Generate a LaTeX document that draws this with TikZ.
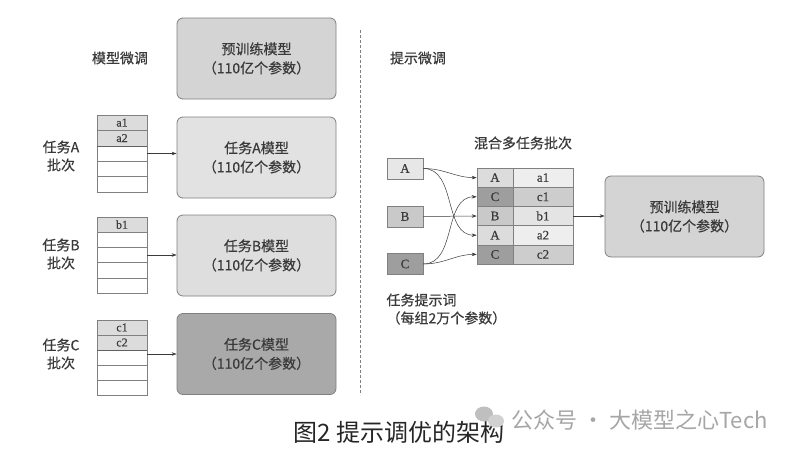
\documentclass[tikz,border=0pt]{standalone}
\usepackage{fontspec}
\setmainfont{Liberation Serif}[FakeBold=0.4]
\newfontfamily\cjk{Noto Sans CJK SC}[FakeBold=0.5]
\newfontfamily\cjkplain{Noto Sans CJK SC}
\usetikzlibrary{arrows.meta}
\definecolor{txt}{HTML}{3A3A3A}
\definecolor{edge}{HTML}{808080}
\definecolor{gTop}{HTML}{D4D4D4}
\definecolor{gA}{HTML}{E2E2E2}
\definecolor{gB}{HTML}{DEDEDE}
\definecolor{gC}{HTML}{A9A9A9}
\definecolor{cellA}{HTML}{DCDCDC}
\definecolor{cellB}{HTML}{C9C9C9}
\definecolor{cellC}{HTML}{9E9E9E}
\definecolor{cellAr}{HTML}{EEEEEE}
\definecolor{cellBr}{HTML}{E4E4E4}
\definecolor{cellCr}{HTML}{CDCDCD}
\begin{document}
\begin{tikzpicture}[x=1pt,y=-1pt,
  mbox/.style={draw=edge,line width=0.8pt,rounded corners=6pt,minimum width=159pt,minimum height=81pt,align=center,text=txt,font=\cjk\fontsize{14}{19}\selectfont},
  lbl/.style={text=txt,align=center,font=\cjk\fontsize{14}{18}\selectfont},
  cell/.style={draw=edge,line width=0.6pt,minimum width=50pt,minimum height=#1,inner sep=0pt,text=txt,font=\fontsize{12}{12}\selectfont},
  mcell/.style={draw=edge,line width=0.6pt,minimum height=19.2pt,inner sep=0pt,text=txt,font=\fontsize{13}{13}\selectfont},
  pbox/.style={draw=edge,line width=0.6pt,minimum width=36pt,minimum height=21pt,inner sep=0pt,text=txt,font=\fontsize{13}{13}\selectfont},
  arr/.style={draw=txt,line width=0.5pt,-{Stealth[length=5pt,width=3.5pt]}}
]
\useasboundingbox[fill=white] (0,0) rectangle (796,453);

% ---------- left: model fine-tuning ----------
\node[lbl] (lft) at (120,58) {模型微调};
\node[mbox,fill=gTop] (pre1) at (256.5,58.5) {预训练模型\\（110亿个参数）};
\node[mbox,fill=gA] (boxA) at (256.5,157.5) {任务A模型\\（110亿个参数）};
\node[mbox,fill=gB] (boxB) at (256.5,255.5) {任务B模型\\（110亿个参数）};
\node[mbox,fill=gC] (boxC) at (256.5,354) {任务C模型\\（110亿个参数）};

\node[lbl] (labA) at (61,156) {任务A\\批次};
\node[lbl] (labB) at (61,254) {任务B\\批次};
\node[lbl] (labC) at (61,354) {任务C\\批次};

% task A batch
\node[cell=15.4pt,fill=cellA] (ta1) at (122,122.7) {a1};
\node[cell=15.4pt,fill=cellA] (ta2) at (122,138.1) {a2};
\node[cell=15.4pt,fill=white] (ta3) at (122,153.5) {};
\node[cell=15.4pt,fill=white] (ta4) at (122,168.9) {};
\node[cell=15.4pt,fill=white] (ta5) at (122,184.3) {};
\draw[txt!80,line width=1.2pt] (ta2.south west) -- (ta2.south east);
% task B batch
\node[cell=15.2pt,fill=cellA] (tb1) at (122,224.6) {b1};
\node[cell=15.2pt,fill=white] (tb2) at (122,239.8) {};
\node[cell=15.2pt,fill=white] (tb3) at (122,255) {};
\node[cell=15.2pt,fill=white] (tb4) at (122,270.2) {};
\node[cell=15.2pt,fill=white] (tb5) at (122,285.4) {};
% task C batch
\node[cell=15pt,fill=cellA] (tc1) at (122,327.5) {c1};
\node[cell=15pt,fill=cellA] (tc2) at (122,342.5) {c2};
\node[cell=15pt,fill=white] (tc3) at (122,357.5) {};
\node[cell=15pt,fill=white] (tc4) at (122,372.5) {};
\node[cell=15pt,fill=white] (tc5) at (122,387.5) {};
\draw[txt!80,line width=1.2pt] (tc2.south west) -- (tc2.south east);

\draw[arr] (ta3.east) -- (ta3.east -| boxA.west);
\draw[arr] (tb3.east) -- (tb3.east -| boxB.west);
\draw[arr] (tc3.east |- boxC.center) -- (boxC.west);

% divider
\coordinate (d1) at (360,30);
\coordinate (d2) at (360,395);
\draw[edge,line width=0.6pt,dash pattern=on 3pt off 2pt] (d1) -- (d2);

% ---------- right: prompt tuning ----------
\node[lbl] (rgt) at (418,58) {提示微调};
\node[lbl] (mix) at (523,143) {混合多任务批次};

\node[pbox,fill=cellAr!60!cellA] (pA) at (405,168.5) {A};
\node[pbox,fill=cellB] (pB) at (405,216.5) {B};
\node[pbox,fill=cellC] (pC) at (405,264) {C};

\node[mcell,minimum width=36pt,fill=cellA] (m1l) at (495,177.6) {A};
\node[mcell,minimum width=60pt,fill=cellAr] (m1r) at (543,177.6) {a1};
\node[mcell,minimum width=36pt,fill=cellC] (m2l) at (495,196.8) {C};
\node[mcell,minimum width=60pt,fill=cellCr] (m2r) at (543,196.8) {c1};
\node[mcell,minimum width=36pt,fill=cellB] (m3l) at (495,216) {B};
\node[mcell,minimum width=60pt,fill=cellBr] (m3r) at (543,216) {b1};
\node[mcell,minimum width=36pt,fill=cellA] (m4l) at (495,235.2) {A};
\node[mcell,minimum width=60pt,fill=cellAr] (m4r) at (543,235.2) {a2};
\node[mcell,minimum width=36pt,fill=cellC] (m5l) at (495,254.4) {C};
\node[mcell,minimum width=60pt,fill=cellCr] (m5r) at (543,254.4) {c2};

\node[mbox,fill=gTop] (pre2) at (684.5,216.5) {预训练模型\\（110亿个参数）};

\draw[arr] (pA.east) to[out=0,in=180] (m1l.west);
\draw[arr] (pA.east) to[out=0,in=180] (m4l.west);
\draw[arr] (pB.east) -- (m3l.west);
\draw[arr] (pC.east) to[out=0,in=180] (m2l.west);
\draw[arr] (pC.east) to[out=0,in=180] (m5l.west);
\draw[arr] (m3r.east) -- (m3r.east -| pre2.west);

\node[lbl,align=left,anchor=north west] (tp) at (383,290) {任务提示词\\（每组2万个参数）};

% ---------- caption and watermark ----------
\node[text=black!85,font=\cjkplain\fontsize{24}{26}\selectfont] (cap) at (399,432) {图2 提示调优的架构};
\fill[black!25] (484,414) ellipse (9pt and 7.5pt);
\fill[black!18] (496,421) ellipse (8pt and 6.5pt);
\node[anchor=west,text=black!35,font=\cjkplain\fontsize{22}{24}\selectfont] (wm) at (508,420) {公众号 · 大模型之心Tech};
\end{tikzpicture}
\end{document}
